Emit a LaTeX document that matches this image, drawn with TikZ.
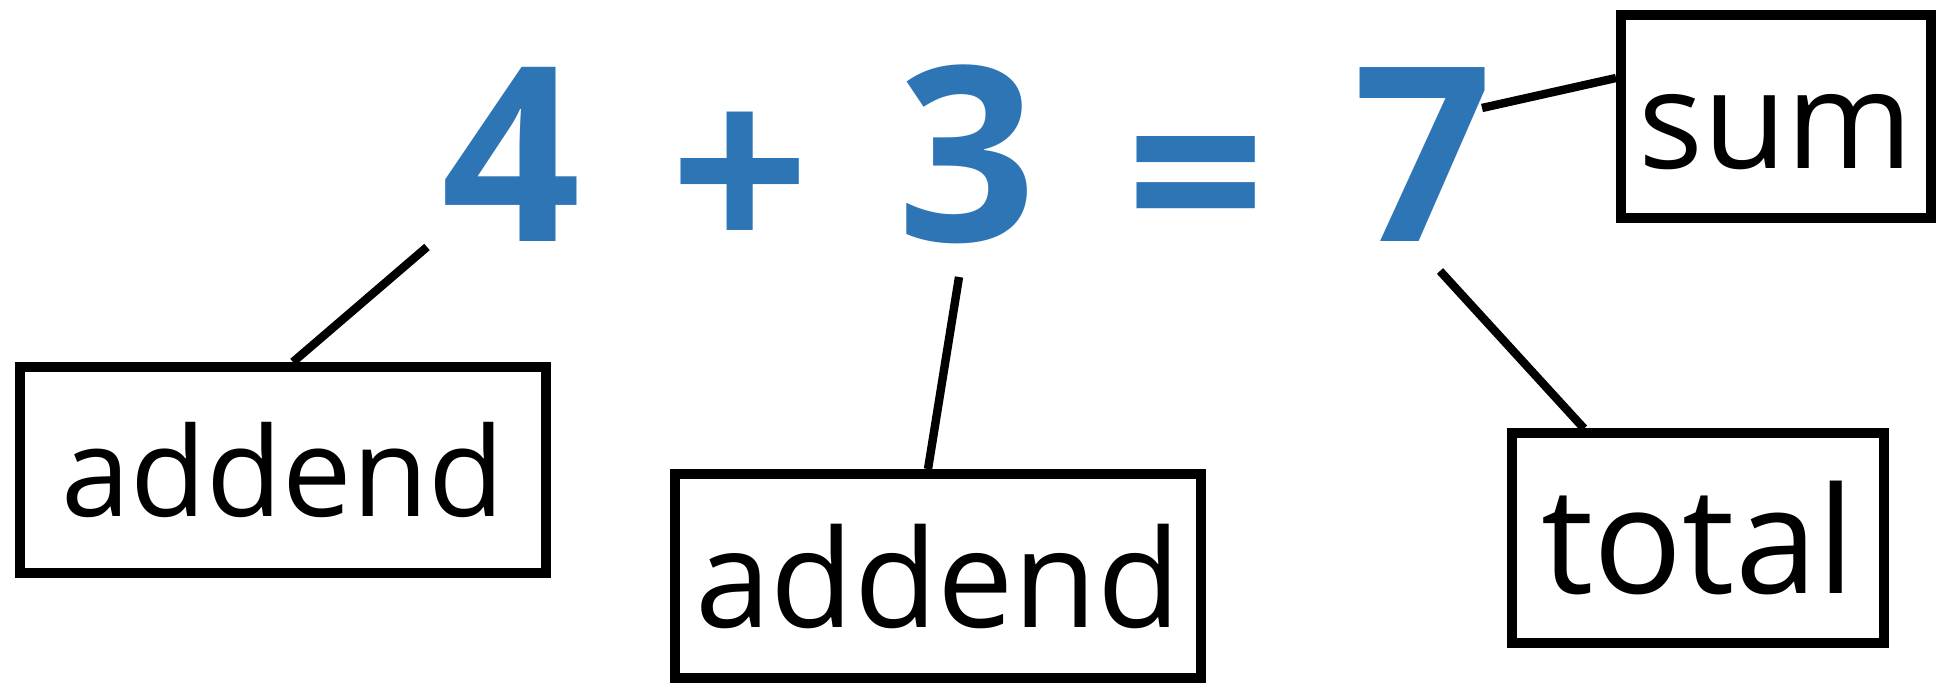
\documentclass[tikz,border=0pt]{standalone}
\usepackage{fontspec}
\setmainfont{Open Sans}
\usepackage{tikz}
\usetikzlibrary{positioning}
\definecolor{numblue}{HTML}{2E75B6}

\begin{document}
\begin{tikzpicture}[
    x=0.5pt, y=-0.5pt,
    number/.style={
        anchor=base,
        inner sep=0pt,
        text=numblue,
        font=\fontsize{122}{122}\selectfont\bfseries
    },
    namebox/.style={
        rectangle,
        draw=black,
        line width=5pt,
        fill=white,
        inner sep=0pt,
        align=center,
        font=\fontsize{#1}{#1}\selectfont
    },
    link/.style={
        line width=4.2pt,
        black
    }
]
\useasboundingbox (0,0) rectangle (1946,688);

% Equation
\node[number] (four)   at (511,242)  {4};
\node[number] (plus)   at (740,258)  {+};
\node[number] (three)  at (967,242)  {3};
\node[number] (equals) at (1196,259) {=};
\node[number] (seven)  at (1423,242) {7};

% Labels
\node[namebox=62, minimum width=263pt, minimum height=103pt] (addendA) at (283,470) {addend};
\node[namebox=68, minimum width=263pt, minimum height=102pt] (addendB) at (938,576) {addend};
\node[namebox=74, minimum width=186pt, minimum height=104.5pt] (total) at (1698,538) {total};
\node[namebox=68, minimum width=155pt, minimum height=101.5pt, text height=52pt, text depth=0pt] (sum) at (1776,117) {sum};

% Free ends next to the digits
\coordinate (fourend)  at (427,247);
\coordinate (threeend) at (959,277);
\coordinate (sevenlow) at (1440,271);
\coordinate (sevenup)  at (1482,108);

% Connectors
\draw[link] (fourend) -- ([xshift=5pt]addendA.north);
\draw[link] (threeend) -- ([xshift=-5pt]addendB.north);
\draw[link] (sevenlow) -- ([xshift=-57pt]total.north);
\draw[link] (sevenup) -- ([yshift=19.5pt]sum.west);

\end{tikzpicture}
\end{document}
